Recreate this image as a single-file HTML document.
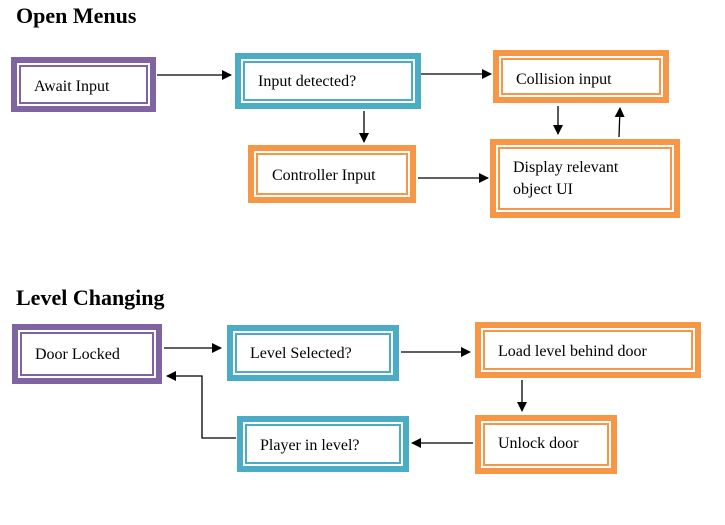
<!DOCTYPE html>
<html><head><meta charset="utf-8"><style>
html,body{margin:0;padding:0;background:#fff;width:725px;height:525px;overflow:hidden}
svg{display:block}
</style></head><body>
<svg width="725" height="525" viewBox="0 0 725 525" font-family="'Liberation Serif', 'Times New Roman', serif">
<defs><marker id="a" markerWidth="10" markerHeight="10" refX="9" refY="5" orient="auto" markerUnits="userSpaceOnUse"><path d="M0,0 L10,5 L0,10 z" fill="#000"/></marker></defs>
<text font-family="'Liberation Serif', serif" font-size="22" font-weight="bold" x="16" y="23">Open Menus</text>
<text font-family="'Liberation Serif', serif" font-size="22" font-weight="bold" x="16" y="305">Level Changing</text>
<g fill="none" stroke-width="6">
<rect x="14" y="60" width="139" height="49" stroke="#8064a2"/><rect x="20" y="66" width="127" height="37" stroke="#8064a2" stroke-width="2"/>
<rect x="238" y="56" width="180" height="50" stroke="#4bacc6"/><rect x="244" y="62" width="168" height="38" stroke="#4bacc6" stroke-width="2"/>
<rect x="496" y="53" width="170" height="47" stroke="#f79646"/><rect x="502" y="59" width="158" height="35" stroke="#f79646" stroke-width="2"/>
<rect x="251" y="148" width="162" height="52" stroke="#f79646"/><rect x="257" y="154" width="150" height="40" stroke="#f79646" stroke-width="2"/>
<rect x="493" y="142" width="184" height="73" stroke="#f79646"/><rect x="499" y="148" width="172" height="61" stroke="#f79646" stroke-width="2"/>
<rect x="15" y="327" width="144" height="54" stroke="#8064a2"/><rect x="21" y="333" width="132" height="42" stroke="#8064a2" stroke-width="2"/>
<rect x="230" y="328" width="166" height="50" stroke="#4bacc6"/><rect x="236" y="334" width="154" height="38" stroke="#4bacc6" stroke-width="2"/>
<rect x="478" y="325" width="220" height="50" stroke="#f79646"/><rect x="484" y="331" width="208" height="38" stroke="#f79646" stroke-width="2"/>
<rect x="478" y="418" width="136" height="53" stroke="#f79646"/><rect x="484" y="424" width="124" height="41" stroke="#f79646" stroke-width="2"/>
<rect x="240" y="419" width="166" height="50" stroke="#4bacc6"/><rect x="246" y="425" width="154" height="38" stroke="#4bacc6" stroke-width="2"/>
</g>
<g stroke="#000" stroke-width="1.3" fill="none" marker-end="url(#a)">
<line x1="157" y1="75" x2="231" y2="75"/>
<line x1="421" y1="74" x2="491" y2="74"/>
<line x1="364" y1="111" x2="364" y2="142"/>
<line x1="558" y1="106" x2="558" y2="134"/>
<line x1="619" y1="137" x2="620" y2="108"/>
<line x1="418" y1="178" x2="488" y2="178"/>
<line x1="164" y1="348" x2="221" y2="348"/>
<line x1="401" y1="352" x2="470" y2="352"/>
<line x1="522" y1="380" x2="522" y2="411"/>
<line x1="473" y1="443" x2="412" y2="443"/>
<polyline points="236,438 202,438 202,376 167,376"/>
</g>
<g font-family="'Liberation Serif', serif" font-size="16" fill="#000">
<text x="34" y="91">Await Input</text>
<text x="258" y="86">Input detected?</text>
<text x="516" y="84">Collision input</text>
<text x="272" y="180">Controller Input</text>
<text x="513" y="172">Display relevant</text>
<text x="513" y="194">object UI</text>
<text x="35" y="359">Door Locked</text>
<text x="250" y="358">Level Selected?</text>
<text x="498" y="356">Load level behind door</text>
<text x="498" y="448">Unlock door</text>
<text x="260" y="450">Player in level?</text>
</g>
</svg>
</body></html>
